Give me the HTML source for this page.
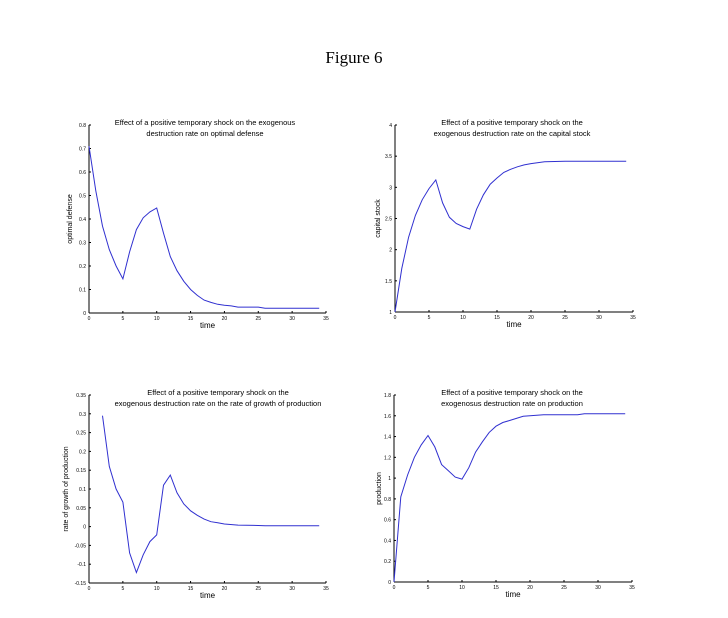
<!DOCTYPE html>
<html><head><meta charset="utf-8"><style>
html,body{margin:0;padding:0;background:#fff;}
svg{display:block;}
text{font-family:"Liberation Sans",sans-serif;fill:#000;}
</style></head><body>
<svg id="s" width="728" height="618" viewBox="0 0 728 618" xmlns="http://www.w3.org/2000/svg">
<text x="354" y="63" text-anchor="middle" style="font-family:'Liberation Serif',serif;font-size:17px">Figure 6</text>
</svg>
<script>
var NS="http://www.w3.org/2000/svg",S=document.getElementById('s');
function el(t,a,txt){var e=document.createElementNS(NS,t);for(var k in a)e.setAttribute(k,a[k]);if(txt!==undefined)e.textContent=txt;S.appendChild(e);return e;}
function panel(o){
 var L=o.l,R=o.r,T=o.t,B=o.b;
 function X(v){return L+(v/35)*(R-L);} function Y(v){return B-(v-o.y0)/(o.y1-o.y0)*(B-T);}
 el('line',{x1:L,y1:T,x2:L,y2:B,stroke:'#000','stroke-width':1});
 el('line',{x1:L,y1:B,x2:R,y2:B,stroke:'#000','stroke-width':1});
 for(var i=0;i<=35;i+=5){el('line',{x1:X(i),y1:B,x2:X(i),y2:B-2,stroke:'#000'});el('text',{x:X(i),y:B+7,'text-anchor':'middle','font-size':5},String(i));}
 o.yt.forEach(function(v){el('line',{x1:L,y1:Y(v),x2:L+2,y2:Y(v),stroke:'#000'});el('text',{x:L-3,y:Y(v)+2,'text-anchor':'end','font-size':5},String(v));});
 el('text',{x:(L+R)/2,y:B+15,'text-anchor':'middle','font-size':8},'time');
 var yl=el('text',{x:0,y:0,'text-anchor':'middle','font-size':7,transform:'translate('+(o.ylx)+','+((T+B)/2)+') rotate(-90)'},o.ylab);
 el('text',{x:o.tx,y:T+0,'text-anchor':'middle','font-size':7.5},o.t1);
 el('text',{x:o.tx,y:T+11,'text-anchor':'middle','font-size':7.5},o.t2);
 var d=o.d.map(function(p,i){return (i?'L':'M')+X(p[0]).toFixed(1)+' '+Y(p[1]).toFixed(1);}).join(' ');
 el('path',{d:d,fill:'none',stroke:'#3030d0','stroke-width':1});
}
panel({l:89,r:326,t:125,b:313,y0:0,y1:0.8,yt:[0,0.1,0.2,0.3,0.4,0.5,0.6,0.7,0.8],ylx:72,ylab:'optimal defense',tx:205,t1:'Effect of a positive temporary shock on the exogenous',t2:'destruction rate on optimal defense',
d:[[0,0.71],[1,0.52],[2,0.37],[3,0.27],[4,0.2],[5,0.145],[6,0.26],[7,0.355],[8,0.405],[9,0.43],[10,0.447],[11,0.34],[12,0.24],[13,0.18],[14,0.135],[15,0.1],[16,0.075],[17,0.055],[18,0.045],[19,0.037],[20,0.033],[21,0.03],[22,0.025],[25,0.025],[26,0.02],[34,0.02]]});
panel({l:395,r:633,t:125,b:312,y0:1,y1:4,yt:[1,1.5,2,2.5,3,3.5,4],ylx:380,ylab:'capital stock',tx:512,t1:'Effect of a positive temporary shock on the',t2:'exogenous destruction rate on the capital stock',
d:[[0,1],[1,1.7],[2,2.2],[3,2.55],[4,2.8],[5,2.98],[6,3.12],[7,2.75],[8,2.52],[9,2.42],[10,2.37],[11,2.33],[12,2.65],[13,2.88],[14,3.05],[15,3.15],[16,3.24],[17,3.29],[18,3.33],[19,3.36],[20,3.38],[22,3.41],[25,3.42],[34,3.42]]});
panel({l:89,r:326,t:395,b:583,y0:-0.15,y1:0.35,yt:[-0.15,-0.1,-0.05,0,0.05,0.1,0.15,0.2,0.25,0.3,0.35],ylx:68,ylab:'rate of growth of production',tx:218,t1:'Effect of a positive  temporary shock on the',t2:'exogenous destruction rate on the rate of growth of production',
d:[[2,0.295],[3,0.16],[4,0.1],[5,0.065],[6,-0.07],[7,-0.122],[8,-0.075],[9,-0.04],[10,-0.022],[11,0.11],[12,0.137],[13,0.09],[14,0.06],[15,0.042],[16,0.03],[17,0.02],[18,0.013],[19,0.01],[20,0.007],[22,0.004],[25,0.003],[26,0.002],[34,0.002]]});
panel({l:394,r:632,t:395,b:582,y0:0,y1:1.8,yt:[0,0.2,0.4,0.6,0.8,1,1.2,1.4,1.6,1.8],ylx:381,ylab:'production',tx:512,t1:'Effect of a positive  temporary shock on the',t2:'exogenosus destruction rate on production',
d:[[0,0],[1,0.82],[2,1.03],[3,1.2],[4,1.32],[5,1.41],[6,1.3],[7,1.13],[8,1.07],[9,1.01],[10,0.99],[11,1.1],[12,1.25],[13,1.35],[14,1.44],[15,1.5],[16,1.535],[17,1.555],[18,1.575],[19,1.595],[20,1.6],[22,1.61],[27,1.61],[28,1.62],[34,1.62]]});
</script>
</body></html>
